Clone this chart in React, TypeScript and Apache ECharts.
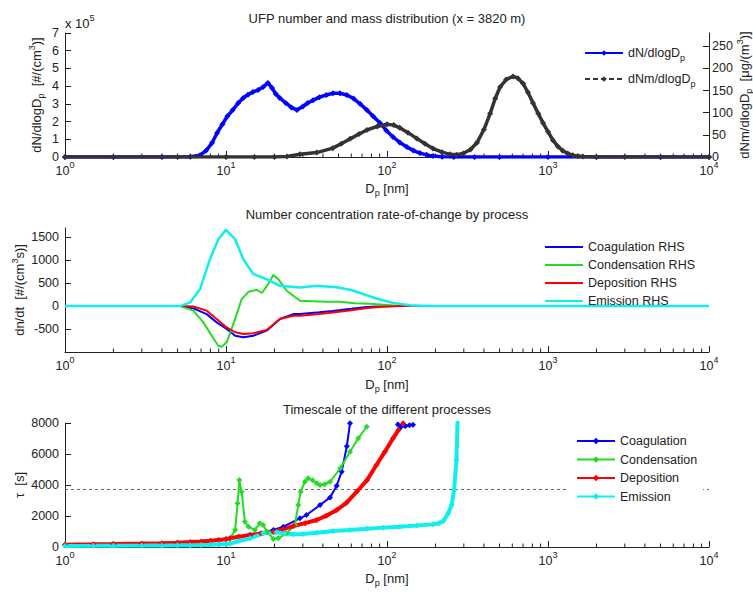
import React, { useEffect, useRef } from 'react';
import * as echarts from 'echarts';

// ---------------- shared log-axis ticks ----------------
const decadeTicks = [1, 10, 100, 1000, 10000];
const minorMultipliers = [2, 3, 4, 5, 6, 7, 8, 9];

// ---------------- panel 1 : size distributions ----------------
const dNDiam = [1, 2, 4, 6, 6.9, 7.5, 8.2, 8.8, 9.5, 10.2, 11, 11.9, 12.8, 13.7, 14.7, 15.8, 17, 18.2, 19.3, 20.4, 21.6, 23.5, 25.5, 27.6, 30, 32.2, 34.7, 38, 42, 46.2, 51, 56.3, 62, 68, 75, 82, 90.5, 99, 109, 120, 133, 146, 160, 176, 193, 220, 260, 350, 500, 1000, 2000, 5000, 10000];
const dNVal = [0, 0, 0, 0.02, 0.1, 0.35, 0.8, 1.36, 1.85, 2.3, 2.65, 3.05, 3.33, 3.52, 3.67, 3.78, 3.95, 4.18, 3.9, 3.55, 3.33, 3.05, 2.8, 2.65, 2.85, 3.05, 3.2, 3.38, 3.5, 3.6, 3.6, 3.5, 3.3, 3.0, 2.65, 2.3, 1.92, 1.5, 1.13, 0.82, 0.56, 0.36, 0.22, 0.12, 0.05, 0.02, 0, 0, 0, 0, 0, 0, 0];
const dNmDiam = [1, 2, 5, 10, 15, 20, 23.9, 28.8, 36.6, 46, 52, 59, 67, 75, 87, 100, 110, 120, 135, 153, 172, 193, 220, 246, 270, 297, 330, 362, 400, 437, 470, 504, 550, 607, 650, 700, 750, 807, 870, 931, 1000, 1073, 1150, 1235, 1325, 1425, 1530, 1650, 2000, 3000, 5000, 10000];
const dNmVal = [0, 0, 0, 0, 0, 0, 1, 6, 10, 20, 30, 41, 52, 61, 69, 74, 72, 66, 55, 42, 30, 19, 11, 6, 5, 8, 17, 32, 62, 98, 132, 158, 175, 182, 178, 166, 146, 122, 98, 77, 57, 38, 24, 14, 8, 4, 2, 1, 0, 0, 0, 0];

// ---------------- panel 2 : rates of change ----------------
const coagRateDiam = [1, 5.2, 6.27, 7.59, 8.75, 10.1, 11.4, 12.8, 14.8, 17.9, 21.6, 26.2, 28.8, 38, 46, 60, 75, 95, 110, 10000];
const coagRateVal = [0, 0, -50, -175, -355, -500, -645, -680, -645, -535, -280, -175, -170, -135, -105, -60, -20, -5, 0, 0];
const condRateDiam = [1, 5.2, 6.27, 7.23, 8.15, 8.96, 9.4, 10.1, 11.4, 12.5, 13.8, 15.5, 16.7, 18.3, 19.7, 21.1, 23.8, 28.8, 42, 51, 63, 78, 110, 140, 10000];
const condRateVal = [0, 0, -100, -355, -645, -865, -885, -790, -280, 150, 310, 355, 285, 480, 675, 585, 335, 115, 95, 95, 60, 50, 10, 0, 0];
const depRateDiam = [1, 5.2, 6.27, 7.59, 8.75, 10.1, 11.4, 12.8, 14.8, 17.9, 21.6, 26.2, 28.8, 38, 46, 60, 75, 95, 120, 10000];
const depRateVal = [0, 0, -10, -100, -280, -465, -570, -610, -590, -520, -280, -210, -210, -170, -140, -90, -40, -15, 0, 0];
const emiRateDiam = [1, 5.18, 5.98, 6.9, 7.95, 8.96, 10, 11.4, 12.8, 14.8, 17.9, 21.6, 28.8, 36.6, 48.7, 60, 68, 86, 110, 139, 178, 10000];
const emiRateVal = [0, 0, 80, 370, 1020, 1455, 1660, 1455, 1020, 695, 585, 440, 405, 440, 410, 350, 285, 165, 65, 20, 0, 0];

// ---------------- panel 3 : timescales ----------------
const coagTauDiam = [1, 2, 5, 10, 14.1, 19.7, 22.7, 28.8, 31.6, 38.4, 44.3, 48.7, 52.3, 56.3, 58.9, 62, 80, 112, 117, 122, 130, 138, 145];
const coagTauVal = [150, 190, 280, 500, 775, 1100, 1310, 1850, 2060, 2710, 3200, 3950, 4860, 6500, 7980, 9500, 15000, 9000, 7900, 7750, 7800, 7850, 7880];
const condTauDiam = [1, 2, 5, 10, 10.6, 11.4, 11.8, 12.1, 12.5, 13.1, 13.8, 15.1, 16.2, 17, 18, 19.7, 21.1, 23.8, 26.8, 28.1, 29.1, 30.9, 32.4, 34.5, 36.6, 38.4, 41, 44.3, 51.3, 58.9, 66.3, 74.8];
const condTauVal = [150, 190, 280, 500, 560, 1100, 2820, 4320, 3570, 1630, 1310, 1100, 1530, 1420, 990, 515, 560, 880, 1420, 2710, 3570, 4210, 4430, 4300, 4110, 4000, 4050, 4210, 5080, 6150, 7010, 7760];
const depTauDiam = [1, 1.5, 2, 3, 4, 5, 6, 7, 8, 9, 10, 10.6, 12, 14.1, 16.5, 19.7, 22.7, 26.2, 31, 36.6, 42, 48.7, 56, 64.9, 75, 86, 97, 109, 118, 126];
const depTauVal = [150, 170, 190, 220, 250, 280, 320, 360, 400, 450, 500, 560, 660, 775, 880, 990, 1150, 1355, 1540, 1740, 2020, 2385, 2850, 3570, 4300, 5290, 6150, 7010, 7550, 7980];
const emiTauDiam = [1, 1.5, 2, 3, 4, 5, 6, 7, 8, 9, 10, 10.6, 12, 14.1, 17, 20.6, 23, 26.2, 30, 36.6, 46.4, 58.9, 74.8, 95, 120, 153, 193, 210, 224, 240, 252, 261, 270, 276];
const emiTauVal = [70, 75, 80, 90, 100, 110, 120, 135, 150, 170, 190, 220, 380, 560, 880, 950, 880, 820, 840, 920, 1030, 1100, 1180, 1250, 1310, 1380, 1460, 1530, 1680, 2170, 2710, 3680, 5610, 9000];
const tauReference = 3740;

// ---------------- styling ----------------
const FONT = '"Liberation Sans", Arial, Helvetica, sans-serif';
const TXT = '#222222';
const BLUE = '#0000ff';
const GREEN = '#22dd22';
const RED = '#ff0000';
const CYAN = '#11eeee';
const DARK = '#333333';

const GRID_LEFT = 65;
const GRID_W = 644;
const GRID_H = 124;
const GRID_TOPS = [33, 228, 423];

const pairs = (xs: number[], ys: number[]) => xs.map((x, i) => [x, ys[i]]);

const minorTicks = decadeTicks.slice(0, -1).flatMap((d) => minorMultipliers.map((m) => d * m));

const plainNumber = (v: number) => String(v);

const subSupRich = {
  sub: { fontSize: 9, lineHeight: 6, verticalAlign: 'bottom', fontFamily: FONT, color: TXT },
  sup: { fontSize: 9, lineHeight: 6, verticalAlign: 'top', fontFamily: FONT, color: TXT },
};

const xAxisFor = (gridIndex: number) => ({
  type: 'log',
  logBase: 10,
  gridIndex,
  min: 1,
  max: 10000,
  splitNumber: 4,
  axisLine: { show: true, onZero: false, lineStyle: { color: TXT, width: 1 } },
  axisTick: { show: true, inside: true, length: 6, lineStyle: { color: TXT } },
  splitLine: { show: false },
  minorTick: { show: false },
  axisLabel: {
    margin: 3,
    color: TXT,
    fontFamily: FONT,
    fontSize: 12.5,
    lineHeight: 22,
    formatter: (v: number) => '10{sup|' + Math.round(Math.log10(v)) + '}',
    rich: {
      sup: { fontSize: 9, lineHeight: 6, verticalAlign: 'top', fontFamily: FONT, color: TXT },
    },
  },
});

const yAxisBase = (gridIndex: number, extra: any, labelExtra: any = {}) => ({
  type: 'value',
  gridIndex,
  axisLine: { show: true, onZero: false, lineStyle: { color: TXT, width: 1 } },
  axisTick: { show: true, inside: true, length: 6, lineStyle: { color: TXT } },
  splitLine: { show: false },
  axisLabel: { color: TXT, fontFamily: FONT, fontSize: 12.5, margin: 6, formatter: plainNumber, ...labelExtra },
  ...extra,
});

const minorTickSeries = (xAxisIndex: number, yAxisIndex: number, yBase: number) => ({
  type: 'custom',
  xAxisIndex,
  yAxisIndex,
  silent: true,
  z: 1,
  data: minorTicks.map((v) => [v, yBase]),
  renderItem: (_params: any, api: any) => {
    const p = api.coord([api.value(0), api.value(1)]);
    return {
      type: 'line',
      shape: { x1: p[0], y1: p[1], x2: p[0], y2: p[1] - 3.5 },
      style: { stroke: TXT, lineWidth: 1 },
    };
  },
});

const textEl = (x: number, y: number, text: string, opts: any = {}) => ({
  type: 'text',
  x,
  y,
  rotation: opts.rotation || 0,
  silent: true,
  style: {
    text,
    fill: TXT,
    fontFamily: FONT,
    fontSize: opts.fontSize || 13,
    lineHeight: opts.lineHeight || 18,
    align: opts.align || 'center',
    verticalAlign: 'middle',
    rich: subSupRich,
  },
});

const option: any = {
  animation: false,
  backgroundColor: '#ffffff',
  textStyle: { fontFamily: FONT },
  grid: GRID_TOPS.map((top) => ({ left: GRID_LEFT, top, width: GRID_W, height: GRID_H, containLabel: false })),
  xAxis: [xAxisFor(0), xAxisFor(1), xAxisFor(2)],
  yAxis: [
    yAxisBase(0, { min: 0, max: 7, interval: 1 }),
    yAxisBase(0, { position: 'right', min: 0, max: 280, interval: 50 }, { margin: 3, showMaxLabel: false }),
    yAxisBase(1, { min: -1000, max: 1700, interval: 500 }, { showMinLabel: false, showMaxLabel: false }),
    yAxisBase(2, { min: 0, max: 8000, interval: 2000 }),
  ],
  legend: [
    {
      orient: 'vertical',
      left: 579,
      top: 39,
      padding: 5,
      itemWidth: 38,
      itemHeight: 7,
      itemGap: 8,
      data: [
        { name: 'dN/dlogDp', lineStyle: { width: 2, type: 'solid' } },
        { name: 'dNm/dlogDp', lineStyle: { width: 2, type: [5, 3] } },
      ],
      formatter: (name: string) => (name === 'dN/dlogDp' ? 'dN/dlogD{sub|p}' : 'dNm/dlogD{sub|p}'),
      textStyle: { color: TXT, fontFamily: FONT, fontSize: 12.5, lineHeight: 18, rich: subSupRich },
    },
    {
      orient: 'vertical',
      left: 540,
      top: 235,
      padding: 5,
      itemWidth: 38,
      itemHeight: 2,
      itemGap: 4,
      icon: 'rect',
      data: ['Coagulation RHS', 'Condensation RHS', 'Deposition RHS', 'Emission RHS'],
      textStyle: { color: TXT, fontFamily: FONT, fontSize: 12.5, lineHeight: 14 },
    },
    {
      orient: 'vertical',
      left: 567,
      top: 430,
      padding: [4, 6, 4, 9],
      backgroundColor: '#ffffff',
      z: 10,
      itemWidth: 38,
      itemHeight: 8,
      itemGap: 4.5,
      data: [
        { name: 'Coagulation', lineStyle: { width: 2 } },
        { name: 'Condensation', lineStyle: { width: 2 } },
        { name: 'Deposition', lineStyle: { width: 2 } },
        { name: 'Emission', lineStyle: { width: 2 } },
      ],
      textStyle: { color: TXT, fontFamily: FONT, fontSize: 12.5, lineHeight: 14 },
    },
  ],
  series: [
    minorTickSeries(0, 0, 0),
    minorTickSeries(1, 2, -1000),
    minorTickSeries(2, 3, 0),
    // panel 1
    {
      name: 'dN/dlogDp',
      type: 'line',
      xAxisIndex: 0,
      yAxisIndex: 0,
      data: pairs(dNDiam, dNVal),
      color: BLUE,
      lineStyle: { color: BLUE, width: 3.5 },
      symbol: 'diamond',
      symbolSize: 6,
      itemStyle: { color: BLUE },
      z: 3,
    },
    {
      name: 'dNm/dlogDp',
      type: 'line',
      xAxisIndex: 0,
      yAxisIndex: 1,
      data: pairs(dNmDiam, dNmVal),
      color: DARK,
      lineStyle: { color: DARK, width: 3.5 },
      symbol: 'diamond',
      symbolSize: 6,
      itemStyle: { color: DARK },
      z: 4,
    },
    // panel 2
    {
      name: 'Coagulation RHS', type: 'line', xAxisIndex: 1, yAxisIndex: 2,
      data: pairs(coagRateDiam, coagRateVal), color: BLUE, symbol: 'none',
      lineStyle: { color: BLUE, width: 2 }, z: 3,
    },
    {
      name: 'Condensation RHS', type: 'line', xAxisIndex: 1, yAxisIndex: 2,
      data: pairs(condRateDiam, condRateVal), color: GREEN, symbol: 'none',
      lineStyle: { color: GREEN, width: 2 }, z: 3,
    },
    {
      name: 'Deposition RHS', type: 'line', xAxisIndex: 1, yAxisIndex: 2,
      data: pairs(depRateDiam, depRateVal), color: RED, symbol: 'none',
      lineStyle: { color: RED, width: 2 }, z: 3,
    },
    {
      name: 'Emission RHS', type: 'line', xAxisIndex: 1, yAxisIndex: 2,
      data: pairs(emiRateDiam, emiRateVal), color: CYAN, symbol: 'none',
      lineStyle: { color: CYAN, width: 2.5 }, z: 3,
    },
    // panel 3
    {
      name: 'Coagulation', type: 'line', xAxisIndex: 2, yAxisIndex: 3,
      data: pairs(coagTauDiam, coagTauVal), color: BLUE, symbol: 'diamond', symbolSize: 6,
      lineStyle: { color: BLUE, width: 2 }, itemStyle: { color: BLUE }, z: 3,
      markLine: {
        silent: true,
        symbol: 'none',
        label: { show: false },
        lineStyle: { color: '#666666', width: 1, type: [3, 3] },
        data: [{ yAxis: tauReference }],
        z: 2,
      },
    },
    {
      name: 'Condensation', type: 'line', xAxisIndex: 2, yAxisIndex: 3,
      data: pairs(condTauDiam, condTauVal), color: GREEN, symbol: 'diamond', symbolSize: 6,
      lineStyle: { color: GREEN, width: 2 }, itemStyle: { color: GREEN }, z: 3,
    },
    {
      name: 'Deposition', type: 'line', xAxisIndex: 2, yAxisIndex: 3,
      data: pairs(depTauDiam, depTauVal), color: RED, symbol: 'diamond', symbolSize: 6,
      lineStyle: { color: RED, width: 4 }, itemStyle: { color: RED }, z: 3,
    },
    {
      name: 'Emission', type: 'line', xAxisIndex: 2, yAxisIndex: 3,
      data: pairs(emiTauDiam, emiTauVal), color: CYAN, symbol: 'diamond', symbolSize: 6,
      lineStyle: { color: CYAN, width: 4 }, itemStyle: { color: CYAN }, z: 3,
    },
  ],
  graphic: [
    textEl(387, 18, 'UFP number and mass distribution (x = 3820 m)'),
    textEl(387, 188, 'D{sub|p} [nm]'),
    textEl(65, 23, 'x 10{sup|5}', { align: 'left', lineHeight: 20 }),
    textEl(36, 95, 'dN/dlogD{sub|p}  [#/(cm{sup|3})]', { rotation: Math.PI / 2 }),
    textEl(744, 95, 'dNm/dlogD{sub|p}  [μg/(m{sup|3})]', { rotation: Math.PI / 2 }),
    textEl(387, 214, 'Number concentration rate-of-change by process'),
    textEl(387, 384, 'D{sub|p} [nm]'),
    textEl(19, 290, 'dn/dt  [#/(cm{sup|3}s)]', { rotation: Math.PI / 2 }),
    textEl(387, 409, 'Timescale of the different processes'),
    textEl(387, 578, 'D{sub|p} [nm]'),
    textEl(19, 485, 'τ  [s]', { rotation: Math.PI / 2 }),
  ],
};

export default function App() {
  const ref = useRef<HTMLDivElement>(null);
  useEffect(() => {
    if (!ref.current) return;
    const chart = echarts.init(ref.current, null, { renderer: 'svg' });
    chart.setOption(option);
    return () => chart.dispose();
  }, []);
  return (
    <div
      ref={ref}
      style={{ position: 'fixed', left: 0, top: 0, width: 753, height: 592, background: '#ffffff' }}
    />
  );
}
